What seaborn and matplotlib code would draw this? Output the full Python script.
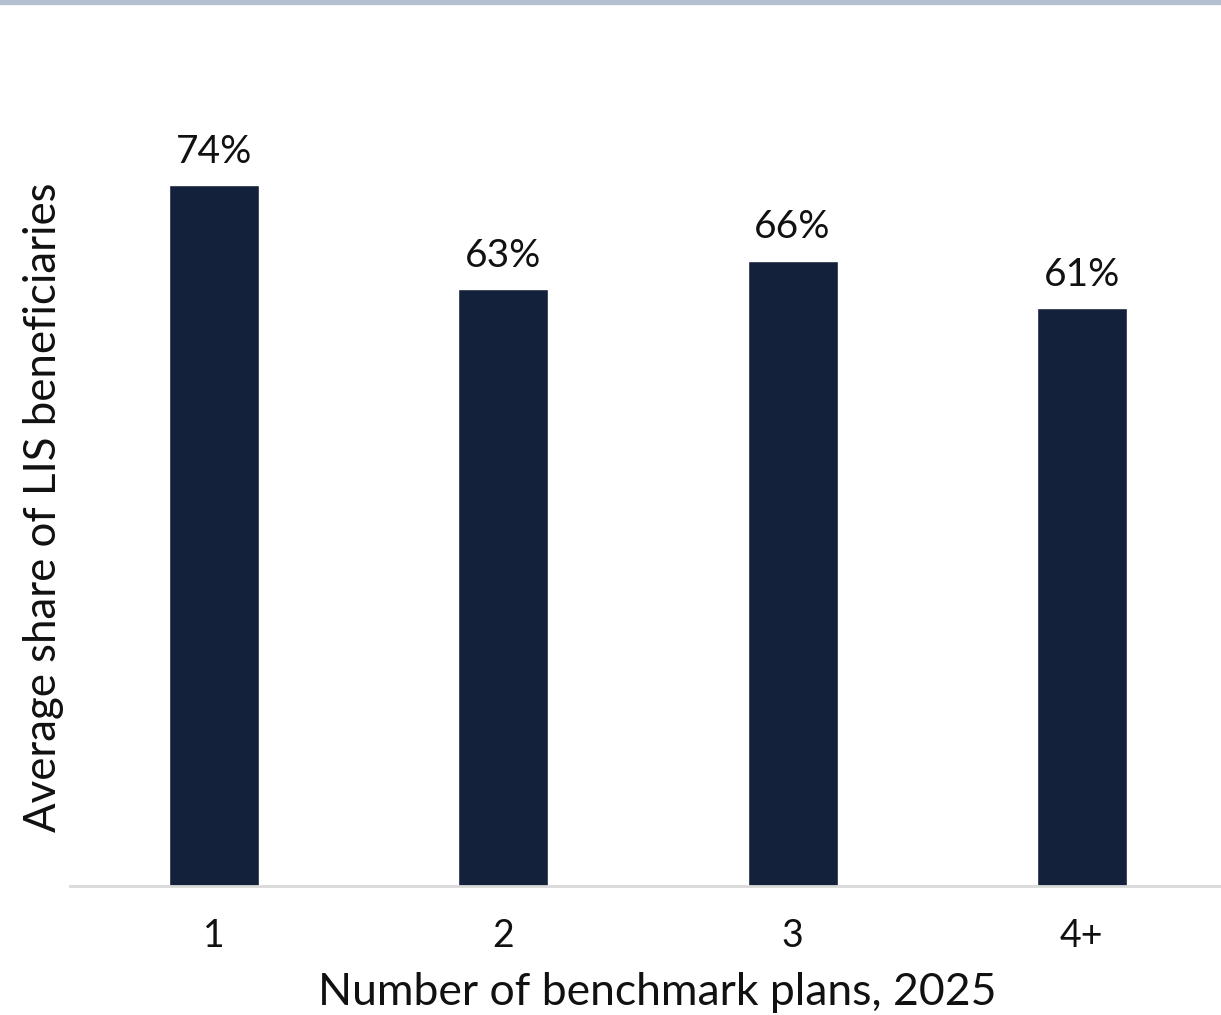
import matplotlib
matplotlib.use("Agg")
import matplotlib.pyplot as plt
import seaborn as sns
import pandas as pd

categories = ["1", "2", "3", "4+"]
shares = [0.74, 0.63, 0.66, 0.61]
value_labels = ["74%", "63%", "66%", "61%"]

sns.set_theme(style="white")
plt.rcParams["font.family"] = ["Lato", "DejaVu Sans"]

df = pd.DataFrame({"plans": categories, "share": shares})

fig = plt.figure(figsize=(12.21, 10.15), dpi=100)
ax = fig.add_axes([70 / 1221, 129 / 1015, 1 - 70 / 1221, 0.7468])

sns.barplot(data=df, x="plans", y="share", color="#14213A", width=0.311,
            saturation=1, ax=ax)

for patch, lab in zip(ax.patches, value_labels):
    ax.text(patch.get_x() + patch.get_width() / 2, patch.get_height() + 0.016,
            lab, ha="center", va="bottom", fontsize=28, color="#111111")

ax.set_ylim(0, 0.8)
ax.set_xlim(-0.498, 3.481)
ax.set_yticks([])
ax.tick_params(axis="x", length=0, labelsize=27, pad=23, colors="#111111")
for side in ["top", "right", "left"]:
    ax.spines[side].set_visible(False)
ax.spines["bottom"].set_color("#D9D9D9")
ax.spines["bottom"].set_linewidth(2)

ax.set_xlabel("Number of benchmark plans, 2025", fontsize=32,
              color="#111111", labelpad=13)
ax.xaxis.label.set_x(0.51)
ax.set_ylabel("Average share of LIS beneficiaries", fontsize=31.5,
              color="#111111", labelpad=4)

# thin accent band along the top edge
fig.patches.append(plt.Rectangle((0, 1 - 4 / 1015), 1, 4 / 1015, transform=fig.transFigure,
                                 color="#B4BFCF", zorder=10))

fig.savefig("out.png", dpi=100)
